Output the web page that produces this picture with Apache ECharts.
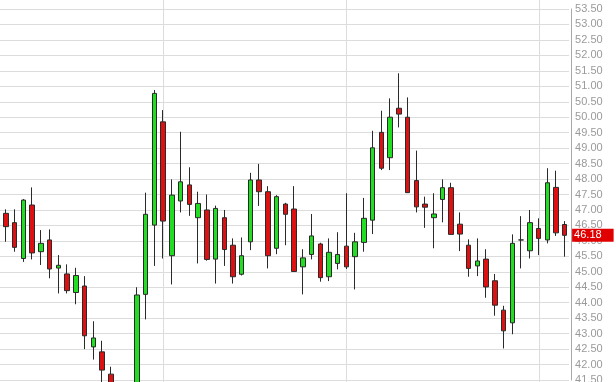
<!DOCTYPE html>
<html>
<head>
<meta charset="utf-8">
<script src="https://cdn.jsdelivr.net/npm/echarts@6/dist/echarts.min.js"></script>
<style>
  html, body { margin: 0; padding: 0; background: #fff; }
  #chart { width: 616px; height: 382px; }
</style>
</head>
<body>
<div id="chart"></div>
<script>
// ---- Data ----
const opens = [47.55, 46.89, 46.59, 45.43, 47.16, 45.65, 46.03, 45.12, 44.93, 44.33,
  44.54, 42.57, 42.41, 41.69, 41.00, 40.60, 41.10, 44.27, 46.51, 49.85,
  45.52, 47.29, 47.81, 46.75, 47.00, 45.41, 46.75, 45.86, 44.92, 45.97,
  47.97, 47.59, 45.76, 47.19, 47.03, 45.16, 45.56, 45.90, 44.84, 45.27,
  45.83, 45.49, 45.95, 46.67, 49.51, 48.69, 50.29, 50.00, 47.95, 47.19,
  46.75, 47.34, 47.72, 46.54, 45.86, 45.19, 45.41, 44.71, 43.76, 43.35,
  46.03, 45.68, 46.40, 46.03, 47.73, 46.53];
const closes = [46.95, 46.46, 45.79, 47.32, 45.61, 45.92, 45.09, 45.21, 44.39, 44.88,
  42.93, 42.86, 41.82, 41.05, 40.50, 40.95, 44.25, 46.86, 50.77, 46.64,
  47.48, 47.91, 47.18, 47.21, 45.40, 47.05, 45.72, 44.84, 45.52, 47.97,
  47.59, 45.52, 47.43, 46.86, 45.01, 45.45, 46.16, 44.81, 45.63, 45.56,
  45.16, 45.97, 46.73, 49.01, 48.35, 50.00, 50.10, 47.56, 47.10, 47.09,
  46.87, 47.72, 46.21, 46.22, 45.11, 45.35, 44.51, 43.92, 43.09, 45.92,
  46.03, 46.59, 46.08, 47.88, 46.26, 46.18];
const lows = [46.89, 45.97, 45.65, 45.32, 45.40, 45.22, 44.79, 44.30, 44.30, 43.95,
  42.50, 42.16, 41.40, 40.80, 40.20, 40.10, 40.90, 43.46, 45.19, 45.43,
  44.59, 46.92, 46.81, 45.27, 45.36, 44.62, 45.19, 44.62, 44.88, 45.70,
  47.13, 45.11, 45.57, 45.86, 45.00, 44.27, 45.40, 44.68, 44.70, 45.08,
  45.09, 44.43, 45.65, 46.22, 48.29, 48.29, 49.67, 47.55, 46.92, 46.42,
  45.76, 46.60, 46.20, 45.67, 44.84, 44.86, 44.16, 43.58, 42.52, 42.98,
  45.11, 45.43, 45.54, 45.92, 46.16, 45.49];
const highs = [47.59, 47.02, 47.02, 47.35, 47.73, 46.35, 46.37, 45.54, 45.24, 45.13,
  44.86, 43.40, 42.77, 41.93, 41.30, 41.25, 44.50, 47.56, 50.88, 50.23,
  47.99, 49.53, 48.38, 47.59, 47.50, 47.14, 47.00, 46.08, 46.11, 48.20,
  48.49, 47.77, 47.48, 47.23, 47.77, 45.73, 46.87, 45.94, 46.08, 46.28,
  47.54, 46.26, 47.39, 49.56, 50.21, 50.61, 51.42, 50.64, 48.92, 47.43,
  47.54, 47.99, 47.88, 46.92, 46.05, 46.08, 45.73, 44.93, 43.90, 46.21,
  46.80, 47.00, 46.73, 48.35, 48.27, 46.64];
const days = opens.map((_, i) => 'D' + (i + 1));
const monthBreaks = [19, 40, 62];      // first trading day of each month (category index)
const yTicks = { min: 41.5, max: 53.5, step: 0.5 };
const lastPrice = closes[closes.length - 1];

// ---- Build series data ----
const candleData = opens.map((o, i) => [o, closes[i], lows[i], highs[i]]);

const chart = echarts.init(document.getElementById('chart'), null, { renderer: 'canvas' });
chart.setOption({
  animation: false,
  backgroundColor: '#ffffff',
  grid: { left: -7.1, right: 46.9, top: 9, bottom: 2, containLabel: false, outerBoundsMode: 'none' },
  xAxis: {
    type: 'category',
    data: days,
    boundaryGap: true,
    axisLine: { show: false },
    axisTick: { show: false },
    axisLabel: { show: false },
    splitLine: { show: false }
  },
  yAxis: {
    type: 'value',
    position: 'right',
    offset: 2,
    min: yTicks.min,
    max: yTicks.max,
    interval: yTicks.step,
    scale: true,
    axisLine: { show: true, lineStyle: { color: '#a8a8a8', width: 1 } },
    axisTick: { show: false },
    axisLabel: {
      show: true,
      showMinLabel: true,
      showMaxLabel: true,
      hideOverlap: false,
      margin: 4,
      color: '#9a9a9a',
      fontSize: 11,
      fontFamily: 'Liberation Sans, Arial, sans-serif',
      formatter: v => v.toFixed(2)
    },
    splitLine: { show: true, lineStyle: { color: '#dcdcdc', width: 1 } }
  },
  series: [
    {
      type: 'custom',
      z: 1,
      silent: true,
      data: monthBreaks.map(i => [i]),
      encode: { x: 0 },
      renderItem: function (params, api) {
        const x = Math.round(api.coord([api.value(0), yTicks.min])[0]) + 0.5;
        return {
          type: 'line',
          shape: { x1: x, y1: 0, x2: x, y2: api.getHeight() },
          style: { stroke: '#dcdcdc', lineWidth: 1 }
        };
      }
    },
    {
      type: 'candlestick',
      z: 2,
      clip: false,
      barWidth: 5,
      data: candleData,
      itemStyle: {
        color: '#22dd22',
        color0: '#dd1111',
        borderColor: '#2a2a2a',
        borderColor0: '#2a2a2a',
        borderColorDoji: '#2a2a2a',
        borderWidth: 1
      },
      markLine: {
        silent: true,
        symbol: 'none',
        animation: false,
        lineStyle: { color: 'rgba(0,0,0,0)', width: 0, type: 'solid' },
        label: {
          show: true,
          position: 'end',
          distance: 3,
          formatter: () => lastPrice.toFixed(2),
          color: '#ffffff',
          backgroundColor: '#e00000',
          fontSize: 11,
          fontFamily: 'Liberation Sans, Arial, sans-serif',
          lineHeight: 13,
          padding: [0, 12, 0, 2]
        },
        data: [{ yAxis: lastPrice }]
      }
    }
  ]
});
</script>
</body>
</html>
